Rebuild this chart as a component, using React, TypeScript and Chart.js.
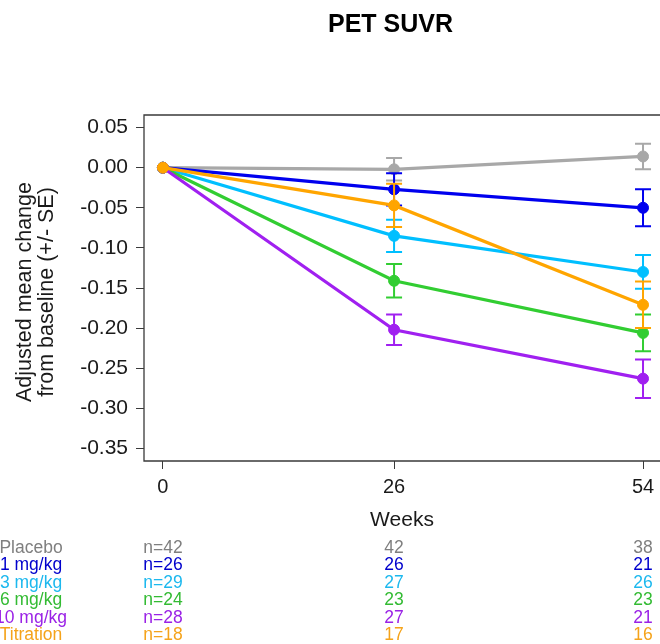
import React, { useEffect, useRef } from "react";
import { Chart, registerables } from "chart.js";

Chart.register(...registerables);

const chartTitle = "PET SUVR";
const yTitle = ["Adjusted mean change", "from baseline (+/- SE)"];
const xTitle = "Weeks";

const weeks = [0, 26, 54];
const yTicks = [0.05, 0, -0.05, -0.1, -0.15, -0.2, -0.25, -0.3, -0.35];

const groups = ["Placebo", "1 mg/kg", "3 mg/kg", "6 mg/kg", "10 mg/kg", "Titration"];

const placeboMean = [0, -0.002, 0.014];
const placeboSE = [0, 0.014, 0.016];
const dose1Mean = [0, -0.027, -0.05];
const dose1SE = [0, 0.02, 0.023];
const dose3Mean = [0, -0.085, -0.13];
const dose3SE = [0, 0.02, 0.021];
const dose6Mean = [0, -0.141, -0.206];
const dose6SE = [0, 0.021, 0.023];
const dose10Mean = [0, -0.202, -0.263];
const dose10SE = [0, 0.019, 0.024];
const titrationMean = [0, -0.047, -0.171];
const titrationSE = [0, 0.027, 0.029];

const placeboN = [42, 42, 38];
const dose1N = [26, 26, 21];
const dose3N = [29, 27, 26];
const dose6N = [24, 23, 23];
const dose10N = [28, 27, 21];
const titrationN = [18, 17, 16];

const lineColors = ["#a8a8a8", "#0000ee", "#00bfff", "#32cd32", "#a020f0", "#ffa500"];
const textColors = ["#7f7f7f", "#0000cc", "#1cb8ee", "#33bb33", "#9a22e6", "#f5a31a"];

const means = [placeboMean, dose1Mean, dose3Mean, dose6Mean, dose10Mean, titrationMean];
const ses = [placeboSE, dose1SE, dose3SE, dose6SE, dose10SE, titrationSE];
const counts = [placeboN, dose1N, dose3N, dose6N, dose10N, titrationN];

const FONT = "'Liberation Sans', Arial, Helvetica, sans-serif";
const AXIS_COLOR = "#3a3a3a";
const TEXT_COLOR = "#1a1a1a";

const boxPlugin = {
  id: "boxPlugin",
  beforeDatasetsDraw(chart: any) {
    const { ctx, chartArea: a } = chart;
    ctx.save();
    ctx.strokeStyle = AXIS_COLOR;
    ctx.lineWidth = 1.3;
    ctx.beginPath();
    ctx.moveTo(a.right + 2, a.top);
    ctx.lineTo(a.left, a.top);
    ctx.lineTo(a.left, a.bottom);
    ctx.lineTo(a.right + 2, a.bottom);
    ctx.stroke();
    ctx.restore();
  },
};

const errorBarPlugin = {
  id: "errorBarPlugin",
  afterDatasetDraw(chart: any, args: any) {
    const idx = args.index;
    const meta = args.meta;
    const yScale = chart.scales.y;
    const ctx = chart.ctx;
    const se = ses[idx];
    const m = means[idx];
    ctx.save();
    ctx.strokeStyle = lineColors[idx];
    ctx.lineWidth = 2;
    meta.data.forEach((pt: any, i: number) => {
      if (!se[i]) return;
      const x = pt.x;
      const yTop = yScale.getPixelForValue(m[i] + se[i]);
      const yBot = yScale.getPixelForValue(m[i] - se[i]);
      const cap = 8;
      ctx.beginPath();
      ctx.moveTo(x, yTop);
      ctx.lineTo(x, yBot);
      ctx.moveTo(x - cap, yTop);
      ctx.lineTo(x + cap, yTop);
      ctx.moveTo(x - cap, yBot);
      ctx.lineTo(x + cap, yBot);
      ctx.stroke();
    });
    ctx.restore();
  },
};

const textPlugin = {
  id: "textPlugin",
  afterDraw(chart: any) {
    const ctx = chart.ctx;
    const xScale = chart.scales.x;
    ctx.save();
    // main title
    ctx.fillStyle = "#000000";
    ctx.font = `bold 25px ${FONT}`;
    ctx.textAlign = "center";
    ctx.textBaseline = "alphabetic";
    ctx.fillText(chartTitle, 390.5, 31.7);

    // y axis title (two lines, rotated)
    ctx.save();
    ctx.fillStyle = TEXT_COLOR;
    ctx.font = `21.5px ${FONT}`;
    ctx.textAlign = "center";
    ctx.textBaseline = "middle";
    ctx.translate(25, 292);
    ctx.rotate(-Math.PI / 2);
    yTitle.forEach((line, i) => {
      ctx.fillText(line, 0, i * 22);
    });
    ctx.restore();

    // at-risk table
    ctx.font = `17.5px ${FONT}`;
    ctx.textBaseline = "alphabetic";
    const baseY = 552.7;
    const step = 17.46;
    groups.forEach((g, r) => {
      const y = baseY + r * step;
      ctx.fillStyle = textColors[r];
      ctx.textAlign = "center";
      ctx.fillText(g, 31, y);
      counts[r].forEach((n, c) => {
        const x = xScale.getPixelForValue(weeks[c]);
        ctx.fillText(c === 0 ? `n=${n}` : String(n), x, y);
      });
    });
    ctx.restore();
  },
};

export default function App() {
  const canvasRef = useRef<HTMLCanvasElement | null>(null);

  useEffect(() => {
    const canvas = canvasRef.current;
    if (!canvas) return;
    const datasets = groups.map((g, k) => ({
      label: g,
      data: weeks.map((w, i) => ({ x: w, y: means[k][i] })),
      borderColor: lineColors[k],
      backgroundColor: lineColors[k],
      pointBackgroundColor: lineColors[k],
      pointBorderColor: lineColors[k],
      pointBorderWidth: 1,
      pointRadius: 5.5,
      borderWidth: 3.2,
      tension: 0,
      fill: false,
      clip: false,
      order: groups.length - 1 - k,
    }));

    const chart = new Chart(canvas, {
      type: "line",
      data: { datasets },
      options: {
        animation: false,
        responsive: false,
        devicePixelRatio: 1,
        layout: { autoPadding: false, padding: { top: 115, left: 0, right: 0, bottom: 108 } },
        plugins: {
          legend: { display: false },
          title: { display: false },
          tooltip: { enabled: false },
        },
        scales: {
          x: {
            type: "linear",
            min: -2.126,
            max: 55.91,
            afterBuildTicks: (s: any) => {
              s.ticks = weeks.map((v) => ({ value: v }));
            },
            afterFit: (s: any) => {
              s.height = 75;
              s.paddingLeft = 0;
              s.paddingRight = 0;
            },
            ticks: {
              autoSkip: false,
              maxRotation: 0,
              padding: 6,
              color: TEXT_COLOR,
              font: { family: FONT, size: 20, lineHeight: 1.2 },
              callback: (v: any) => String(v),
            },
            grid: {
              display: true,
              drawOnChartArea: false,
              drawTicks: true,
              tickLength: 8,
              tickColor: AXIS_COLOR,
              tickWidth: 1,
            },
            border: { display: false },
            title: {
              display: true,
              text: xTitle,
              color: TEXT_COLOR,
              font: { family: FONT, size: 21, lineHeight: 1.2 },
              padding: { top: 0, bottom: 3 },
            },
          },
          y: {
            type: "linear",
            min: -0.3657,
            max: 0.0657,
            afterBuildTicks: (s: any) => {
              s.ticks = yTicks.map((v) => ({ value: v }));
            },
            afterFit: (s: any) => {
              s.width = 144;
              s.paddingTop = 0;
              s.paddingBottom = 0;
            },
            ticks: {
              padding: 8,
              color: TEXT_COLOR,
              font: { family: FONT, size: 21, lineHeight: 1.2 },
              callback: (v: any) => Number(v).toFixed(2),
            },
            grid: {
              display: true,
              drawOnChartArea: false,
              drawTicks: true,
              tickLength: 8,
              tickColor: AXIS_COLOR,
              tickWidth: 1,
            },
            border: { display: false },
            title: { display: false },
          },
        },
      },
      plugins: [boxPlugin, errorBarPlugin, textPlugin],
    } as any);

    return () => {
      chart.destroy();
    };
  }, []);

  return (
    <div
      style={{
        position: "fixed",
        left: 0,
        top: 0,
        width: 660,
        height: 644,
        overflow: "hidden",
        background: "#ffffff",
      }}
    >
      <canvas ref={canvasRef} width={660} height={644} style={{ width: 660, height: 644, display: "block" }} />
    </div>
  );
}
